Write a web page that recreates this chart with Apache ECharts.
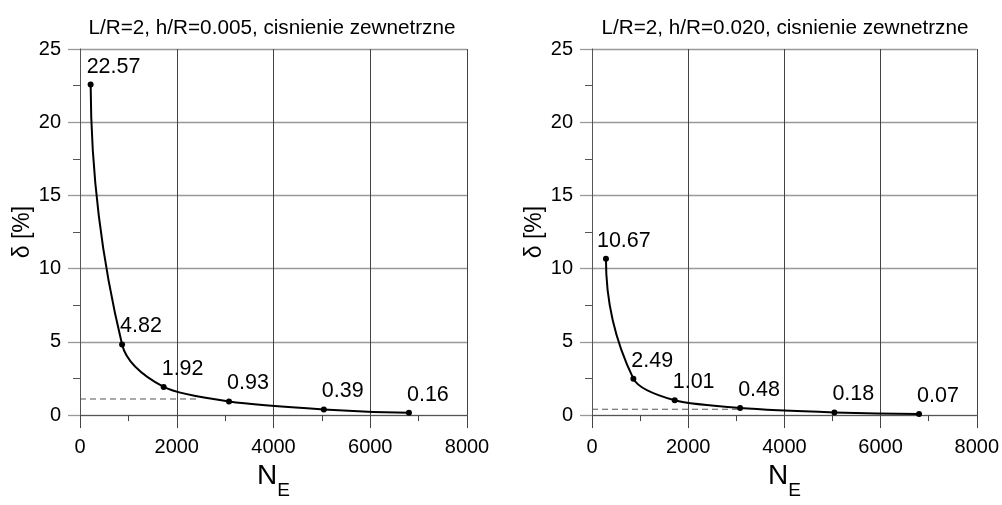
<!DOCTYPE html>
<html>
<head>
<meta charset="utf-8">
<script src="https://cdn.jsdelivr.net/npm/echarts@6/dist/echarts.min.js"></script>
<style>
  html, body { margin: 0; padding: 0; background: #fff; }
  #chart { width: 1002px; height: 505px; }
</style>
</head>
<body>
<div id="chart"></div>
<script>
// Convergence of the relative difference delta vs. number of elements N_E
const titles = [
  'L/R=2, h/R=0.005, cisnienie zewnetrzne',
  'L/R=2, h/R=0.020, cisnienie zewnetrzne'
];

// h/R = 0.005
const nLeft = [220, 870, 1730, 3080, 5040, 6800];
const deltaLeft = [22.57, 4.82, 1.92, 0.93, 0.39, 0.16];
const guideLeft = [[0, 1.1], [2450, 1.1]];

// h/R = 0.020
const nRight = [290, 860, 1720, 3080, 5040, 6800];
const deltaRight = [10.67, 2.49, 1.01, 0.48, 0.18, 0.07];
const guideRight = [[0, 0.4], [3030, 0.4]];

const xTicks = { min: 0, max: 8000, interval: 2000 };
const yTicks = { min: 0, max: 25, interval: 5 };

const FONT = "'Liberation Sans', Arial, sans-serif";

const grids = [
  { left: 80, top: 49, width: 387, height: 388 },
  { left: 592, top: 49, width: 387, height: 388 }
];

function xAxisFor(i) {
  return {
    gridIndex: i,
    type: 'value',
    min: xTicks.min, max: xTicks.max, interval: xTicks.interval,
    name: '{n|N}{e|E}',
    nameLocation: 'middle',
    nameGap: 31,
    nameTextStyle: {
      rich: {
        n: { fontFamily: FONT, fontSize: 28, lineHeight: 30, color: '#000', verticalAlign: 'top' },
        e: { fontFamily: FONT, fontSize: 19, lineHeight: 19, color: '#000', verticalAlign: 'top', padding: [19, 0, 0, 0] }
      }
    },
    axisLine: { show: true, lineStyle: { color: '#555', width: 1 } },
    axisTick: { show: true, length: 13, lineStyle: { color: '#444', width: 1 } },
    minorTick: { show: true, splitNumber: 2, length: 6, lineStyle: { color: '#444', width: 1 } },
    splitLine: { show: true, lineStyle: { color: '#444', width: 1 } },
    axisLabel: { fontFamily: FONT, fontSize: 20, color: '#000', margin: 22, formatter: v => String(v) }
  };
}

function yAxisFor(i) {
  return {
    gridIndex: i,
    type: 'value',
    min: yTicks.min, max: yTicks.max, interval: yTicks.interval,
    name: 'δ [%]',
    nameLocation: 'middle',
    nameGap: 46,
    nameTextStyle: { fontFamily: FONT, fontSize: 23, color: '#000' },
    axisLine: { show: true, lineStyle: { color: '#555', width: 1 } },
    axisTick: { show: true, length: 12, lineStyle: { color: '#999', width: 1.3 } },
    minorTick: { show: true, splitNumber: 2, length: 7, lineStyle: { color: '#555', width: 1 } },
    splitLine: { show: true, lineStyle: { color: '#999', width: 1.3 } },
    axisLabel: { fontFamily: FONT, fontSize: 20, color: '#000', margin: 19, formatter: v => String(v) }
  };
}

// Smooth convex curve through the measured points: tangent at each inner
// point follows the chord of its neighbours, end tangents are mirrored, and
// each span is a quadratic Bezier whose control point is where the two
// tangent lines meet.
function unit(v) {
  const l = Math.hypot(v[0], v[1]) || 1;
  return [v[0] / l, v[1] / l];
}
function mirror(d, u) {
  const dot = d[0] * u[0] + d[1] * u[1];
  return unit([2 * dot * u[0] - d[0], 2 * dot * u[1] - d[1]]);
}
function curvePieces(p) {
  const n = p.length;
  const dir = new Array(n);
  for (let i = 1; i < n - 1; i++) {
    dir[i] = unit([p[i + 1][0] - p[i - 1][0], p[i + 1][1] - p[i - 1][1]]);
  }
  dir[0] = mirror(dir[1], unit([p[1][0] - p[0][0], p[1][1] - p[0][1]]));
  dir[n - 1] = mirror(dir[n - 2], unit([p[n - 1][0] - p[n - 2][0], p[n - 1][1] - p[n - 2][1]]));
  const pieces = [];
  for (let i = 0; i < n - 1; i++) {
    const a = p[i], b = p[i + 1], da = dir[i], db = dir[i + 1];
    const rx = b[0] - a[0], ry = b[1] - a[1];
    const det = da[0] * db[1] - da[1] * db[0];
    let cx = (a[0] + b[0]) / 2, cy = (a[1] + b[1]) / 2;
    if (Math.abs(det) > 1e-9) {
      const s = (rx * db[1] - ry * db[0]) / det;
      const t = (da[0] * ry - da[1] * rx) / det;
      if (s > 0 && t > 0) { cx = a[0] + s * da[0]; cy = a[1] + s * da[1]; }
    }
    pieces.push({
      type: 'bezierCurve',
      shape: { x1: a[0], y1: a[1], x2: b[0], y2: b[1], cpx1: cx, cpy1: cy },
      style: { stroke: '#000', lineWidth: 2, fill: null }
    });
  }
  return pieces;
}

function curveSeries(i, xs, ys) {
  return {
    type: 'custom',
    xAxisIndex: i, yAxisIndex: i,
    data: [[xs[0], ys[0]]],
    silent: true,
    renderItem: (params, api) => ({
      type: 'group',
      children: curvePieces(xs.map((x, k) => api.coord([x, ys[k]])))
    }),
    z: 4
  };
}

function pointSeries(i, xs, ys, firstShift) {
  return {
    type: 'scatter',
    xAxisIndex: i, yAxisIndex: i,
    data: xs.map((x, k) => ({
      value: [x, ys[k]],
      label: { offset: [k === 0 ? firstShift : -2, 0] }
    })),
    symbol: 'circle',
    symbolSize: 6,
    silent: true,
    itemStyle: { color: '#000', opacity: 1 },
    label: {
      show: true,
      position: 'top',
      align: 'left',
      distance: 4,
      fontFamily: FONT,
      fontSize: 21.5,
      color: '#000',
      formatter: p => p.value[1].toFixed(2)
    },
    z: 5
  };
}

function guideSeries(i, pts) {
  return {
    type: 'line',
    xAxisIndex: i, yAxisIndex: i,
    data: pts,
    symbol: 'none',
    silent: true,
    lineStyle: { color: '#555', width: 1, type: [6, 4] },
    z: 3
  };
}

const titleStyle = { fontFamily: FONT, fontSize: 20.7, fontWeight: 'normal', color: '#000' };

const chart = echarts.init(document.getElementById('chart'), null, { renderer: 'canvas' });
chart.setOption({
  animation: false,
  backgroundColor: '#fff',
  title: [
    { text: titles[0], left: 267, top: 13, textAlign: 'center', textStyle: titleStyle },
    { text: titles[1], left: 780, top: 13, textAlign: 'center', textStyle: titleStyle }
  ],
  grid: grids,
  xAxis: [xAxisFor(0), xAxisFor(1)],
  yAxis: [yAxisFor(0), yAxisFor(1)],
  series: [
    guideSeries(0, guideLeft),
    curveSeries(0, nLeft, deltaLeft),
    pointSeries(0, nLeft, deltaLeft, -4),
    guideSeries(1, guideRight),
    curveSeries(1, nRight, deltaRight),
    pointSeries(1, nRight, deltaRight, -9)
  ]
});
</script>
</body>
</html>
